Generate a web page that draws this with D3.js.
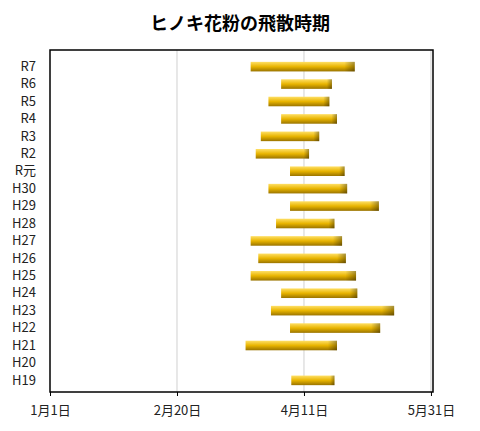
<!DOCTYPE html><html><head><meta charset="utf-8"><script src="https://cdn.jsdelivr.net/npm/d3@7"></script>
<style>body{margin:0;background:#fff}</style></head><body><svg id="c" width="480" height="431"></svg>
<script>
const categories=["R7","R6","R5","R4","R3","R2","R元","H30","H29","H28","H27","H26","H25","H24","H23","H22","H21","H20","H19"];
const startDay=[79,91,86,91,83,81,94.5,86,94.5,89,79,82,79,91,87,94.5,77,null,95];
const endDay=[120,111,110,113,106,102,116,117,129.5,112,115,116.5,120.5,121,135.5,130,113,null,112];
const tickDays=[0,50,100,150];
const tickLabels=["1月1日","2月20日","4月11日","5月31日"];
const svg=d3.select("#c");
const m={l:50,r:47,t:50,b:39};
const x=d3.scaleLinear().domain([0,150.8]).range([m.l,480-m.r]);
const y=d3.scaleBand().domain(categories).range([m.t+4,431-m.b+1]).padding(0.45);
const defs=svg.append("defs");
const g=defs.append("linearGradient").attr("id","gv").attr("x1",0).attr("y1",0).attr("x2",0).attr("y2",1);
g.append("stop").attr("offset","0").attr("stop-color","#ffe066");
g.append("stop").attr("offset","0.5").attr("stop-color","#e8b400");
g.append("stop").attr("offset","1").attr("stop-color","#9a7400");
const gh=defs.append("linearGradient").attr("id","gh").attr("x1",0).attr("y1",0).attr("x2",1).attr("y2",0);
gh.append("stop").attr("offset","0.9").attr("stop-color","#000").attr("stop-opacity",0);
gh.append("stop").attr("offset","1").attr("stop-color","#000").attr("stop-opacity",0.35);
svg.append("text").attr("x",240).attr("y",30).attr("text-anchor","middle").attr("font-family","Noto Sans CJK JP").attr("font-weight","bold").attr("font-size",18).text("ヒノキ花粉の飛散時期");
svg.selectAll(".gl").data(tickDays.slice(1)).join("line").attr("x1",d=>x(d)).attr("x2",d=>x(d)).attr("y1",m.t).attr("y2",431-m.b).attr("stroke","#d0d0d0");
const data=categories.map((c,i)=>({c,s:startDay[i],e:endDay[i]})).filter(d=>d.s!=null);
svg.selectAll(".b").data(data).join("rect").attr("x",d=>x(d.s)).attr("width",d=>x(d.e)-x(d.s)).attr("y",d=>y(d.c)).attr("height",y.bandwidth()).attr("fill","url(#gv)");
svg.selectAll(".bh").data(data).join("rect").attr("x",d=>x(d.s)).attr("width",d=>x(d.e)-x(d.s)).attr("y",d=>y(d.c)).attr("height",y.bandwidth()).attr("fill","url(#gh)");
svg.append("rect").attr("x",m.l).attr("y",m.t).attr("width",480-m.r-m.l).attr("height",431-m.b-m.t).attr("fill","none").attr("stroke","#000").attr("stroke-width",1.5);
const xa=svg.append("g").attr("transform",`translate(0,${431-m.b})`).call(d3.axisBottom(x).tickValues(tickDays).tickFormat((d,i)=>tickLabels[i]).tickSize(4).tickPadding(10));
xa.select(".domain").remove();
xa.selectAll("text").attr("font-family","Noto Sans CJK JP").attr("font-size",13).attr("fill","#222");
const ya=svg.append("g").attr("transform",`translate(${m.l},0)`).call(d3.axisLeft(y).tickSize(0).tickPadding(14));
ya.select(".domain").remove();
ya.selectAll("text").attr("font-family","Noto Sans CJK JP").attr("font-size",13).attr("fill","#222");
</script></body></html>
